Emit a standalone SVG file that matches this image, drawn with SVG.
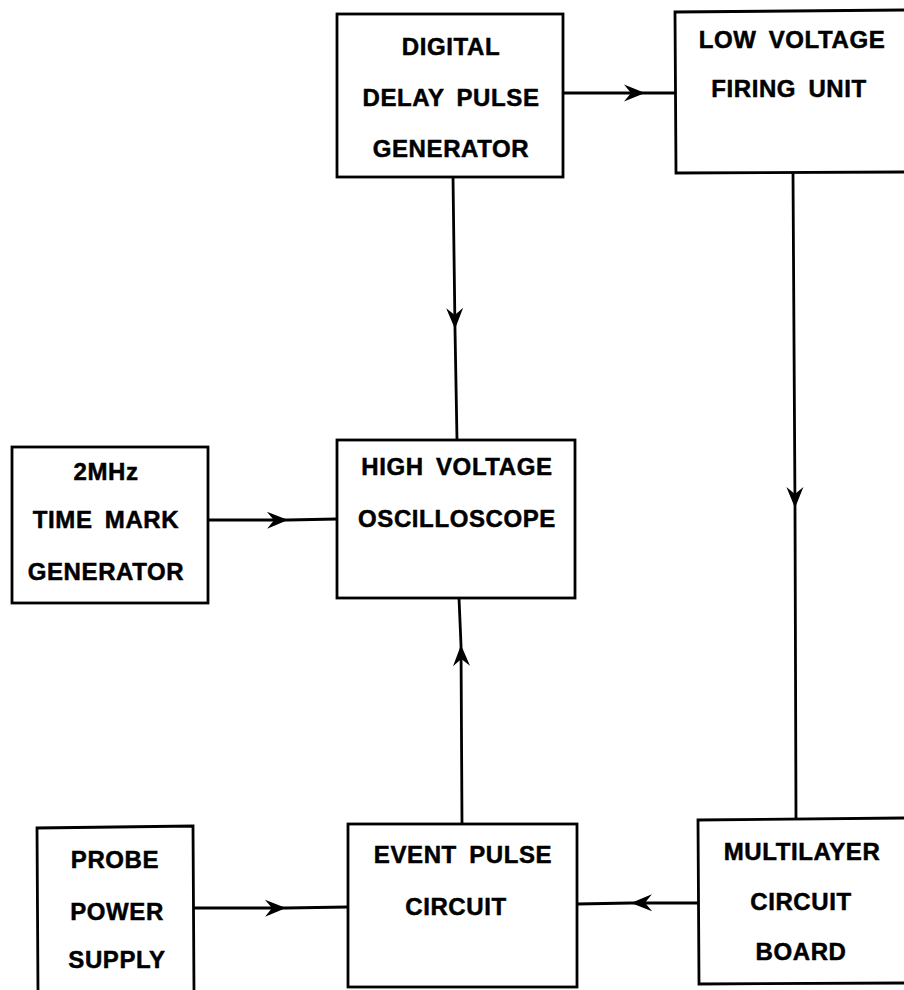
<svg xmlns="http://www.w3.org/2000/svg" width="904" height="990" viewBox="0 0 904 990">
<style>
.box{fill:none;stroke:#000;stroke-width:2.8;stroke-linejoin:miter}
.lbl{font-family:"Liberation Sans",Arial,sans-serif;font-weight:bold;font-size:24px;letter-spacing:0.6px;word-spacing:5px;fill:#000;stroke:#000;stroke-width:0.5;text-anchor:middle}
.wire{fill:none;stroke:#000;stroke-width:2.8}
</style>
<defs>
<marker id="ah" viewBox="-22 -10 24 20" markerWidth="24" markerHeight="20" refX="0" refY="0" orient="auto" markerUnits="userSpaceOnUse">
<path d="M0,0 L-21,-8.5 L-14,0 L-21,8.5 Z" fill="#000"/>
</marker>
</defs>
<rect width="904" height="990" fill="#fff"/>
<g id="connectors">
<polyline class="wire" points="563,93 645,93 675,93" marker-mid="url(#ah)"/>
<polyline class="wire" points="453,177 455,329 457,440" marker-mid="url(#ah)"/>
<polyline class="wire" points="208,520 288,520 337,519" marker-mid="url(#ah)"/>
<polyline class="wire" points="462,824 461,645 459,598" marker-mid="url(#ah)"/>
<polyline class="wire" points="793,173 795,508 796,820" marker-mid="url(#ah)"/>
<polyline class="wire" points="194,908 286,908 348,907" marker-mid="url(#ah)"/>
<polyline class="wire" points="698,903 631,903 577,904" marker-mid="url(#ah)"/>
</g>
<g id="digital-delay">
<rect class="box" x="337" y="14" width="226" height="163"/>
<text class="lbl" x="451" y="55">DIGITAL</text>
<text class="lbl" x="451" y="106">DELAY PULSE</text>
<text class="lbl" x="451" y="157">GENERATOR</text>
</g>
<g id="low-voltage">
<path class="box" d="M906,10 L675,12 L676,173 L906,172"/>
<text class="lbl" x="792" y="48">LOW VOLTAGE</text>
<text class="lbl" x="789" y="97">FIRING UNIT</text>
</g>
<g id="time-mark">
<rect class="box" x="12" y="447" width="196" height="156"/>
<text class="lbl" x="106" y="480">2MHz</text>
<text class="lbl" x="106" y="528">TIME MARK</text>
<text class="lbl" x="106" y="580">GENERATOR</text>
</g>
<g id="oscilloscope">
<rect class="box" x="337" y="440" width="238" height="158"/>
<text class="lbl" x="457" y="475">HIGH VOLTAGE</text>
<text class="lbl" x="457" y="527">OSCILLOSCOPE</text>
</g>
<g id="probe">
<path class="box" d="M38,992 L37,828 L193,826 L194,992"/>
<text class="lbl" x="115" y="868">PROBE</text>
<text class="lbl" x="117" y="920">POWER</text>
<text class="lbl" x="117" y="968">SUPPLY</text>
</g>
<g id="event-pulse">
<rect class="box" x="348" y="824" width="229" height="163"/>
<text class="lbl" x="463" y="863">EVENT PULSE</text>
<text class="lbl" x="456" y="915">CIRCUIT</text>
</g>
<g id="multilayer">
<path class="box" d="M906,818 L698,820 L699,984 L906,983"/>
<text class="lbl" x="802" y="860">MULTILAYER</text>
<text class="lbl" x="801" y="910">CIRCUIT</text>
<text class="lbl" x="801" y="960">BOARD</text>
</g>
</svg>
